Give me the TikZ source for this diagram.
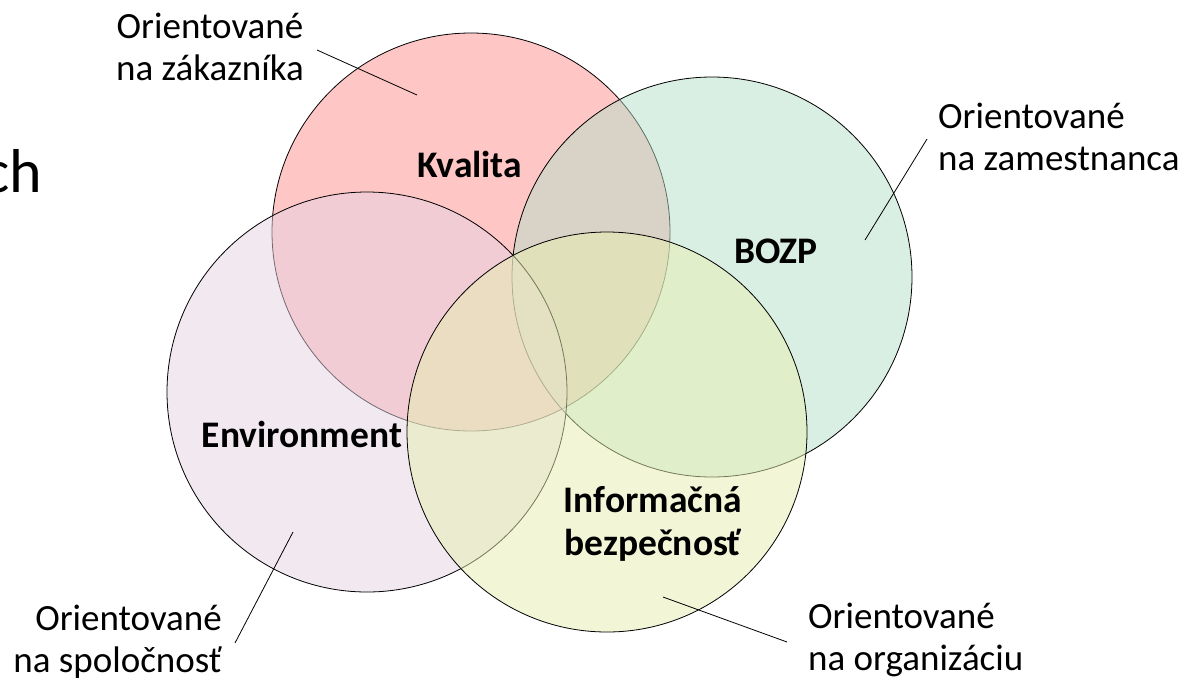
\documentclass[tikz,border=0pt]{standalone}
\usepackage{fontspec}
\setmainfont{Carlito}
\definecolor{cred}{RGB}{255,143,143}
\definecolor{cgreen}{RGB}{181,225,201}
\definecolor{cpurple}{RGB}{229,211,227}
\definecolor{cyellow}{RGB}{231,239,177}
\begin{document}
\begin{tikzpicture}[x=1pt,y=-1pt,
  venn/.style={draw=black,line width=0.8pt,fill opacity=0.5,draw opacity=1},
  lbl/.style={font=\fontsize{37}{42}\selectfont,inner sep=0pt},
  blbl/.style={font=\fontsize{37.5}{42}\selectfont\bfseries,inner sep=0pt},
  conn/.style={draw=black,line width=0.8pt}]
\useasboundingbox (0,0) rectangle (1186,681);
\fill[white] (0,0) rectangle (1186,681);
% circles
\fill[cred,venn] (471,232) circle[radius=199];
\fill[cgreen,venn] (712,277) circle[radius=200];
\fill[cpurple,venn] (367,392) circle[radius=200];
\fill[cyellow,venn] (607,432) circle[radius=200];
% cut-off title text
\node[font=\fontsize{62}{70}\selectfont,inner sep=0pt,anchor=base east] (ch) at (42,192) {ch};
% bold labels
\node[blbl,anchor=base] (kval) at (470,177) {Kvalita};
\node[blbl,anchor=base] (bozp) at (776,263) {BOZP};
\node[blbl,anchor=base] (env) at (302,447) {Environment};
\node[blbl,anchor=base] (inf1) at (653,512) {Informačná};
\node[blbl,anchor=base] (inf2) at (653,555) {bezpečnosť};
% outer labels
\node[lbl,anchor=base] (zak1) at (210,38) {Orientované};
\node[lbl,anchor=base] (zak2) at (210,80) {na zákazníka};
\node[lbl,anchor=base west] (zam1) at (938,128) {Orientované};
\node[lbl,anchor=base west] (zam2) at (938,170) {na zamestnanca};
\node[lbl,anchor=base east] (spo1) at (222,630) {Orientované};
\node[lbl,anchor=base east] (spo2) at (222,672) {na spoločnosť};
\node[lbl,anchor=base west] (org1) at (808,628) {Orientované};
\node[lbl,anchor=base west] (org2) at (808,670) {na organizáciu};
% connectors
\coordinate (a1) at (317,50); \coordinate (a2) at (417,95);
\coordinate (b1) at (927,139); \coordinate (b2) at (865,240);
\coordinate (c1) at (235,643); \coordinate (c2) at (293,532);
\coordinate (d1) at (787,642); \coordinate (d2) at (663,597);
\draw[conn] (a1) -- (a2);
\draw[conn] (b1) -- (b2);
\draw[conn] (c1) -- (c2);
\draw[conn] (d1) -- (d2);
\end{tikzpicture}
\end{document}
